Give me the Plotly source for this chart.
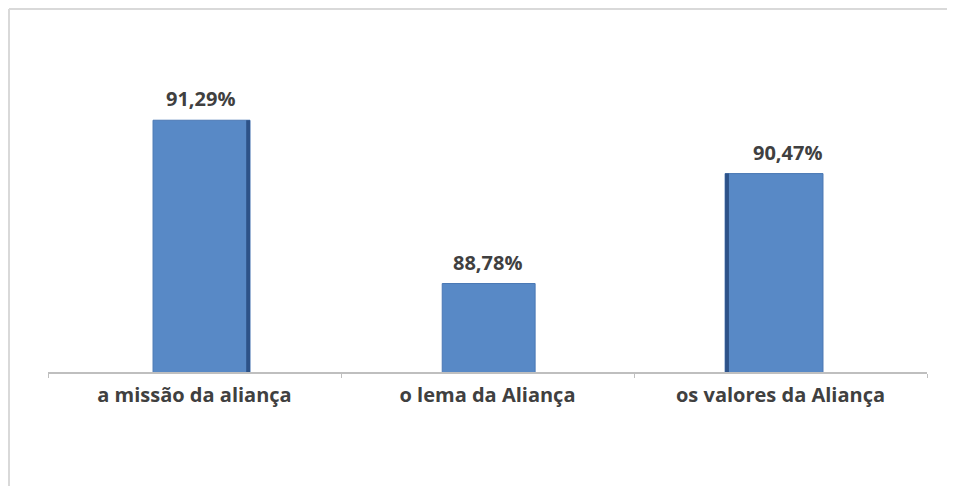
import plotly.graph_objects as go

categories = ["a missão da aliança", "o lema da Aliança", "os valores da Aliança"]
values = [91.29, 88.78, 90.47]
value_labels = [f"{v:.2f}".replace(".", ",") + "%" for v in values]

W, H = 947, 478
ml, mr, mt, mb = 40, 28, 22, 114
y_min = 87.42
px_per_unit = 65.06
y_max = y_min + (H - mt - mb) / px_per_unit

# style: per-bar widths / offsets (perspective look of the original)
bar_widths = [0.331, 0.317, 0.334]
bar_shift = [0.024, 0.004, -0.022]
bar_offsets = [-w / 2 + s for w, s in zip(bar_widths, bar_shift)]
edge_w = 0.013
edge_widths = [edge_w, edge_w, edge_w]
edge_offsets = [bar_offsets[0] + bar_widths[0] - edge_w, bar_offsets[1], bar_offsets[2]]
edge_opacity = [1, 0, 1]
label_xshift = [6, 0, 7]

fig = go.Figure()
fig.add_trace(go.Bar(
    x=categories, y=values,
    width=bar_widths, offset=bar_offsets,
    marker=dict(color="#5889c6", line=dict(color="#4a78b4", width=1)),
    hoverinfo="skip",
))
fig.add_trace(go.Bar(
    x=categories, y=values,
    width=edge_widths, offset=edge_offsets,
    marker=dict(color="#2d5288", opacity=edge_opacity, line=dict(width=0)),
    hoverinfo="skip",
))

for c, v, t, dx in zip(categories, values, value_labels, label_xshift):
    fig.add_annotation(x=c, y=v, text=f"<b>{t}</b>", showarrow=False,
                       yanchor="bottom", yshift=6, xshift=dx,
                       font=dict(family="Open Sans", size=20, color="#404040"))

# chart frame (partially visible)
plot_w = W - ml - mr
plot_h = H - mt - mb
def px(xp):
    return (xp - ml) / plot_w
def py(yp):
    return (H - mb - yp) / plot_h
border = dict(color="#d9d9d9", width=2)
fig.add_shape(type="line", xref="paper", yref="paper", x0=px(1), x1=px(W + 5), y0=py(1), y1=py(1), line=border)
fig.add_shape(type="line", xref="paper", yref="paper", x0=px(1), x1=px(1), y0=py(1), y1=py(H + 5), line=border)

fig.update_layout(
    width=W, height=H,
    margin=dict(l=ml, r=mr, t=mt, b=mb),
    plot_bgcolor="white", paper_bgcolor="white",
    showlegend=False,
    barmode="overlay",
    xaxis=dict(
        type="category",
        showline=True, linecolor="#bfbfbf", linewidth=2,
        ticks="outside", tickson="boundaries", ticklen=4, tickcolor="#bfbfbf", tickwidth=1,
        tickfont=dict(family="Open Sans", size=20, color="#404040", weight="bold"),
        ticklabelstandoff=4,
        showgrid=False, zeroline=False,
    ),
    yaxis=dict(range=[y_min, y_max], visible=False, showgrid=False, zeroline=False),
)

fig.write_html("out.html")
